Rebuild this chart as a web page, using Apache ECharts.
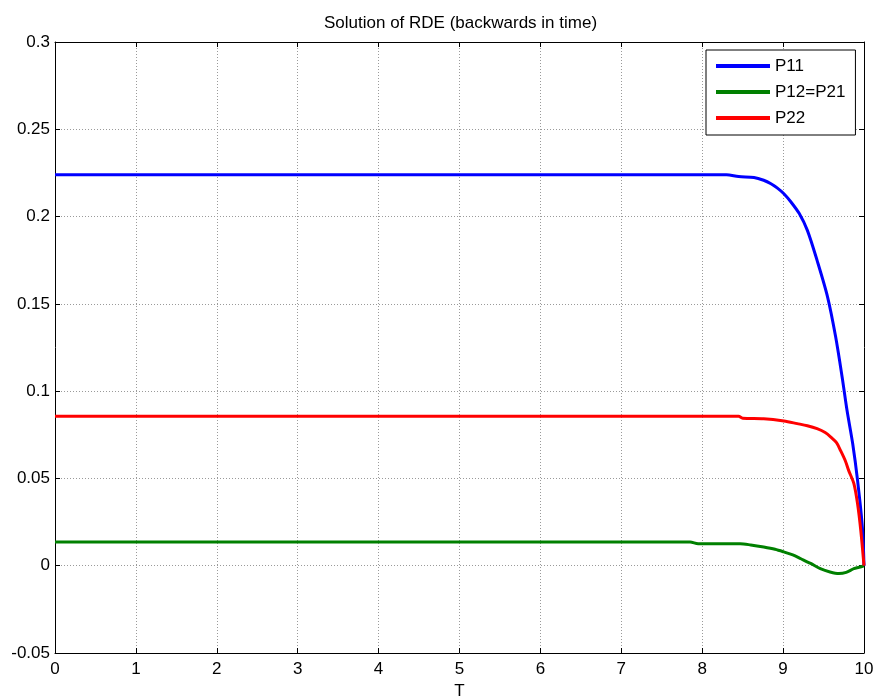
<!DOCTYPE html>
<html>
<head>
<meta charset="utf-8">
<script src="https://cdn.jsdelivr.net/npm/echarts@6/dist/echarts.min.js"></script>
<style>
  html, body { margin: 0; padding: 0; background: #fff; }
  #chart { width: 874px; height: 698px; }
</style>
</head>
<body>
<div id="chart"></div>
<script>
// Riccati differential equation solution, integrated backwards from T = 10
const titleText = 'Solution of RDE (backwards in time)';
const xName = 'T';
const seriesNames = ['P11', 'P12=P21', 'P22'];
const seriesColors = ['#0000ff', '#008000', '#ff0000'];

const p11T = [0, 8.3, 8.45, 8.64, 8.76, 8.85, 8.93, 9.01, 9.1, 9.2, 9.3, 9.42, 9.55, 9.65, 9.73, 9.79, 9.86, 9.92, 9.98, 10];
const p11V = [0.224, 0.224, 0.2229, 0.2224, 0.2208, 0.2188, 0.2163, 0.2131, 0.2082, 0.2017, 0.1921, 0.1749, 0.1539, 0.131, 0.108, 0.089, 0.070, 0.049, 0.022, 0];

const p12T = [0, 7.85, 7.95, 8.47, 8.6, 8.76, 8.9, 9.01, 9.12, 9.22, 9.34, 9.46, 9.58, 9.69, 9.78, 9.875, 9.94, 10];
const p12V = [0.0136, 0.0136, 0.0126, 0.0126, 0.0119, 0.0107, 0.0094, 0.0079, 0.0062, 0.0040, 0.0013, -0.0017, -0.0036, -0.0045, -0.0038, -0.0017, -0.0009, 0];

const p22T = [0, 8.45, 8.5, 8.76, 9.01, 9.175, 9.3, 9.42, 9.52, 9.59, 9.66, 9.71, 9.77, 9.81, 9.875, 9.92, 9.96, 10];
const p22V = [0.0856, 0.0856, 0.0845, 0.0842, 0.0829, 0.0814, 0.0802, 0.0785, 0.0763, 0.0737, 0.0705, 0.066, 0.060, 0.0546, 0.047, 0.0356, 0.0203, 0];

const xTicks = [0, 10, 1];          // min, max, step
const yTicks = [-0.05, 0.3, 0.05];  // min, max, step

const font = 'Liberation Sans, Arial, sans-serif';
const fontSize = 17;

function pairs(t, v) { return t.map((x, i) => [x, v[i]]); }
function fmtY(v) { const r = Math.round(v * 100) / 100; return String(r); }

const chart = echarts.init(document.getElementById('chart'), null, { renderer: 'canvas' });

const gridLine = { show: true, lineStyle: { color: '#9a9a9a', type: [1, 2], width: 1 } };
const tickIn = { show: true, inside: true, length: 5, lineStyle: { color: '#000' } };
const axisLine = { show: true, onZero: false, lineStyle: { color: '#000', width: 1 } };

chart.setOption({
  animation: false,
  backgroundColor: '#fff',
  title: {
    text: titleText, left: 319, top: 10,
    textStyle: { fontFamily: font, fontSize: fontSize, fontWeight: 'normal', color: '#000' }
  },
  legend: {
    orient: 'vertical', left: 706, top: 50,
    data: seriesNames,
    icon: 'rect', itemWidth: 54, itemHeight: 4, itemGap: 6,
    padding: [6, 10, 7, 10],
    borderColor: '#000', borderWidth: 1, backgroundColor: '#fff',
    textStyle: { fontFamily: font, fontSize: fontSize, color: '#000', lineHeight: 20 }
  },
  grid: { left: 55, right: 10, top: 42, bottom: 45, containLabel: false, outerBoundsMode: 'none' },
  xAxis: [{
    type: 'value', min: xTicks[0], max: xTicks[1], interval: xTicks[2],
    name: xName, nameLocation: 'middle', nameGap: 30,
    nameTextStyle: { fontFamily: font, fontSize: fontSize, color: '#000' },
    axisLine: axisLine, axisTick: tickIn, splitLine: gridLine,
    axisLabel: { fontFamily: font, fontSize: fontSize, color: '#000', margin: 8 }
  }, {
    type: 'value', position: 'top', min: xTicks[0], max: xTicks[1], interval: xTicks[2],
    axisLine: axisLine, axisTick: tickIn, splitLine: { show: false }, axisLabel: { show: false }
  }],
  yAxis: [{
    type: 'value', min: yTicks[0], max: yTicks[1], interval: yTicks[2],
    axisLine: axisLine, axisTick: tickIn, splitLine: gridLine,
    axisLabel: { fontFamily: font, fontSize: fontSize, color: '#000', margin: 5, formatter: fmtY }
  }, {
    type: 'value', position: 'right', min: yTicks[0], max: yTicks[1], interval: yTicks[2],
    axisLine: axisLine, axisTick: tickIn, splitLine: { show: false }, axisLabel: { show: false }
  }],
  series: [
    { name: seriesNames[0], type: 'line', data: pairs(p11T, p11V), smooth: 0.3, showSymbol: false,
      lineStyle: { width: 3, color: seriesColors[0] }, itemStyle: { color: seriesColors[0] } },
    { name: seriesNames[1], type: 'line', data: pairs(p12T, p12V), smooth: 0.3, showSymbol: false,
      lineStyle: { width: 3, color: seriesColors[1] }, itemStyle: { color: seriesColors[1] } },
    { name: seriesNames[2], type: 'line', data: pairs(p22T, p22V), smooth: 0.3, showSymbol: false,
      lineStyle: { width: 3, color: seriesColors[2] }, itemStyle: { color: seriesColors[2] } }
  ]
});
</script>
</body>
</html>
